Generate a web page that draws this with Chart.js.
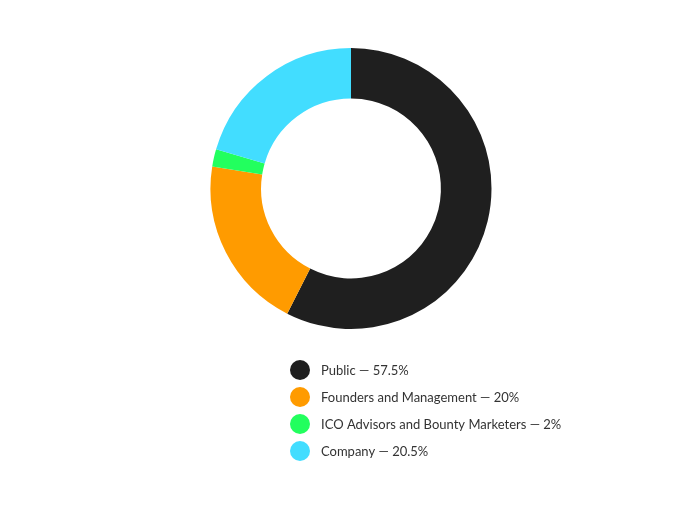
<!DOCTYPE html>
<html>
<head>
<meta charset="utf-8">
<script src="https://cdn.jsdelivr.net/npm/chart.js@4"></script>
<style>
html,body{margin:0;padding:0;background:#fff;}
#wrap{width:699px;height:507px;position:relative;}
</style>
</head>
<body>
<div id="wrap"><canvas id="c" width="699" height="507"></canvas></div>
<script>
const categories = ["Public", "Founders and Management", "ICO Advisors and Bounty Marketers", "Company"];
const shares = [57.5, 20, 2, 20.5];
const colors = ["#1f1f1f", "#ff9b00", "#22ff5e", "#42ddff"];

const legendPlugin = {
  id: 'listLegend',
  afterDraw(chart) {
    const ctx = chart.ctx;
    const ds = chart.data.datasets[0];
    const x0 = 300, y0 = 370, step = 27;
    ctx.save();
    ctx.font = '13px Lato, "Open Sans", sans-serif';
    ctx.textBaseline = 'middle';
    chart.data.labels.forEach((lab, i) => {
      const y = y0 + i * step;
      ctx.beginPath();
      ctx.arc(x0, y, 10, 0, Math.PI * 2);
      ctx.fillStyle = ds.backgroundColor[i];
      ctx.fill();
      ctx.fillStyle = '#333';
      ctx.fillText(lab + ' \u2014 ' + ds.data[i] + '%', 321, y + 1);
    });
    ctx.restore();
  }
};

new Chart(document.getElementById('c'), {
  type: 'doughnut',
  data: {
    labels: categories,
    datasets: [{ data: shares, backgroundColor: colors, borderWidth: 0, hoverOffset: 0 }]
  },
  options: {
    responsive: false,
    animation: false,
    cutout: '64%',
    layout: { padding: { top: 48, bottom: 178, left: 3, right: 0 } },
    plugins: { legend: { display: false }, tooltip: { enabled: false } }
  },
  plugins: [legendPlugin]
});
</script>
</body>
</html>
